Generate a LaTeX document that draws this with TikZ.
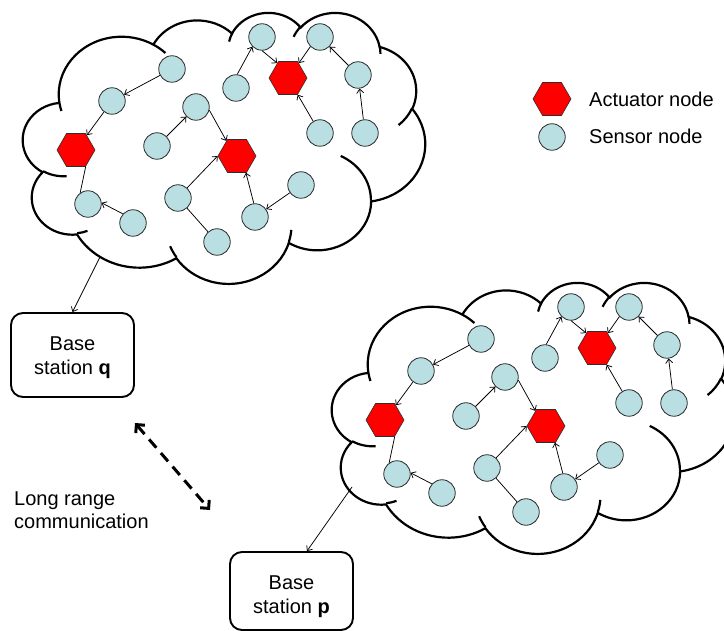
\documentclass[tikz,border=0pt]{standalone}
\usepackage{fontspec}
\setmainfont{Liberation Sans}
\usetikzlibrary{shapes.geometric,arrows.meta,calc}
\definecolor{sensorblue}{RGB}{185,223,226}
\definecolor{nodeline}{RGB}{45,45,45}

\makeatletter
\newcommand\defcarc[5]{%
  \pgfmathsetmacro\carc@a{atan2((#2)*sin(#4),(#3)*cos(#4))}%
  \pgfmathsetmacro\carc@b{atan2((#2)*sin((#4)+(#5)),(#3)*cos((#4)+(#5)))}%
  \pgfmathsetmacro\carc@d{mod((\carc@b)-(\carc@a)+720,360)}%
  \expandafter\xdef\csname cS#1\endcsname{\carc@a}%
  \expandafter\xdef\csname cD#1\endcsname{\carc@d}%
}
\makeatother
\defcarc{A}{6753}{9190}{-190.48748}{123.78053}
\defcarc{B}{5333}{7267}{-144.10238}{89.94523}
\defcarc{C}{4365}{5945}{-145.80792}{99.72302}
\defcarc{D}{4857}{6595}{-130.98607}{117.24173}
\defcarc{E}{5333}{7273}{-78.70888}{109.02692}
\defcarc{F}{6775}{9220}{-46.26725}{130.269}
\defcarc{G}{5785}{7867}{0.62502}{114.03333}
\defcarc{H}{6752}{9215}{22.4516}{115.17255}
\defcarc{I}{7720}{10543}{66.24263}{75.71102}
\defcarc{J}{4360}{5918}{-274.94208}{146.73557}
\defcarc{K}{4345}{5945}{-246.8285}{152.51885}
\defcarc{a}{4345}{5945}{86.742}{26.4295}
\defcarc{b}{4360}{5918}{73.61047}{11.44747}
\defcarc{c}{6752}{9215}{137.62415}{14.0811}
\defcarc{d}{6752}{9215}{6.45327}{15.99835}
\defcarc{e}{5785}{7867}{-70.29235}{70.91737}
\defcarc{f}{5333}{7273}{30.31803}{27.7515}
\defcarc{g}{4857}{6595}{-13.74433}{14.8589}
\defcarc{h}{4857}{6595}{-149.18145}{18.19537}
\defcarc{i}{4365}{5945}{-163.49427}{17.68635}
\defcarc{j}{6753}{9190}{-66.70695}{12.31935}
\defcarc{k}{6753}{9190}{157.65435}{11.85817}

\newcommand\drawcloud{%
  \draw[cloudline] (3900,14370)
    arc[start angle=\cSA, delta angle=\cDA, x radius=6753, y radius=9190]
    arc[start angle=\cSB, delta angle=\cDB, x radius=5333, y radius=7267]
    arc[start angle=\cSC, delta angle=\cDC, x radius=4365, y radius=5945]
    arc[start angle=\cSD, delta angle=\cDD, x radius=4857, y radius=6595]
    arc[start angle=\cSE, delta angle=\cDE, x radius=5333, y radius=7273]
    arc[start angle=\cSF, delta angle=\cDF, x radius=6775, y radius=9220]
    arc[start angle=\cSG, delta angle=\cDG, x radius=5785, y radius=7867]
    arc[start angle=\cSH, delta angle=\cDH, x radius=6752, y radius=9215]
    arc[start angle=\cSI, delta angle=\cDI, x radius=7720, y radius=10543]
    arc[start angle=\cSJ, delta angle=\cDJ, x radius=4360, y radius=5918]
    arc[start angle=\cSK, delta angle=\cDK, x radius=4345, y radius=5945];
  \draw[cloudline]
    (4693,26177) arc[start angle=\cSa, delta angle=\cDa, x radius=4345, y radius=5945]
    (6928,34899) arc[start angle=\cSb, delta angle=\cDb, x radius=4360, y radius=5918]
    (16478,39090) arc[start angle=\cSc, delta angle=\cDc, x radius=6752, y radius=9215]
    (28827,34751) arc[start angle=\cSd, delta angle=\cDd, x radius=6752, y radius=9215]
    (34129,22954) arc[start angle=\cSe, delta angle=\cDe, x radius=5785, y radius=7867]
    (41798,15354) arc[start angle=\cSf, delta angle=\cDf, x radius=5333, y radius=7273]
    (38324,5426) arc[start angle=\cSg, delta angle=\cDg, x radius=4857, y radius=6595]
    (29078,3952) arc[start angle=\cSh, delta angle=\cDh, x radius=4857, y radius=6595]
    (22141,4720) arc[start angle=\cSi, delta angle=\cDi, x radius=4365, y radius=5945]
    (14000,5192) arc[start angle=\cSj, delta angle=\cDj, x radius=6753, y radius=9190]
    (4127,15789) arc[start angle=\cSk, delta angle=\cDk, x radius=6753, y radius=9190];
}

\newcommand\network{%
  \node[sensor] (s1) at (172,69) {};
  \node[sensor] (s2) at (112,101) {};
  \node[sensor] (s3) at (196,107) {};
  \node[sensor] (s4) at (157,146) {};
  \node[sensor] (s5) at (262,37) {};
  \node[sensor] (s6) at (236,88) {};
  \node[sensor] (s7) at (320,37) {};
  \node[sensor] (s8) at (358,75) {};
  \node[sensor] (s9) at (320,133) {};
  \node[sensor] (s10) at (365,133) {};
  \node[sensor] (s11) at (88,204) {};
  \node[sensor] (s12) at (133,223) {};
  \node[sensor] (s13) at (178,198) {};
  \node[sensor] (s14) at (217,242) {};
  \node[sensor] (s15) at (255,217) {};
  \node[sensor] (s16) at (301,185) {};
  \node[actuator] (a1) at (76,150) {};
  \node[actuator] (a2) at (237,156) {};
  \node[actuator] (a3) at (288,78) {};
  \draw[arr] (s1) -- (s2);
  \draw[arr] (s2) -- (a1);
  \draw[arr] (s4) -- (s3);
  \draw[arr] (s3.-13) -- (a2.125);
  \draw[arr] (s6.85) -- (s5.225);
  \draw[arr] (s5.-90) -- (a3.126);
  \draw[arr] (s7.225) -- (a3.54);
  \draw[arr] (s8) -- (s7);
  \draw[arr] (s10) -- (s8);
  \draw[arr] (s9) -- (a3);
  \draw[ln] (a1.-60) -- (s11.125);
  \draw[arr] (s12.138) -- (s11.5);
  \draw[arr] (s13.48) -- (a2.180);
  \draw[ln] (s14) -- (s13);
  \draw[arr] (s15.95) -- (a2.-62);
  \draw[arr] (s16) -- (s15);
}

\begin{document}
\begin{tikzpicture}[x=1pt,y=-1pt,
  cloudline/.style={draw=black, line width=2.2pt},
  sensor/.style={circle, draw=nodeline, fill=sensorblue, line width=0.8pt,
    minimum size=26.5pt, inner sep=0pt},
  actuator/.style={regular polygon, regular polygon sides=6, draw=nodeline,
    fill=red, line width=0.6pt, minimum size=38pt, inner sep=0pt},
  arr/.style={draw=black, line width=0.75pt, -{Straight Barb[length=4pt,width=7pt]}},
  ln/.style={draw=black, line width=0.75pt},
  bsbox/.style={draw=black, line width=1.9pt, rounded corners=12pt,
    minimum width=123pt, inner sep=0pt},
  txt/.style={font=\fontsize{20}{23}\selectfont, inner sep=0pt},
  lrarrow/.style={draw=black, line width=3pt, dash pattern=on 11pt off 7pt,
    {Straight Barb[length=6pt,width=12pt]}-{Straight Barb[length=6pt,width=12pt]}}
]
\useasboundingbox (0,0) rectangle (724,631);

\begin{scope}[shift={(23,12)},x=0.0093056pt,y=-0.0062731pt]
  \drawcloud
\end{scope}
\begin{scope}[shift={(332,282)},x=0.0093056pt,y=-0.0062731pt]
  \drawcloud
\end{scope}

\begin{scope}[name prefix=t-]
  \network
\end{scope}
\begin{scope}[shift={(309,270)},name prefix=b-]
  \network
\end{scope}

% legend
\node[actuator] (la) at (552,99) {};
\node[sensor] (ls) at (552,137) {};
\node[txt, anchor=base west] (lat) at (589,106.5) {Actuator node};
\node[txt, anchor=base west] (lst) at (589,144) {Sensor node};

% base stations
\node[bsbox, minimum height=84pt] (q) at (72.5,355) {};
\node[txt, anchor=base] (q1) at (72.5,351) {Base};
\node[txt, anchor=base] (q2) at (72.5,375) {station \textbf{q}};
\node[bsbox, minimum height=78pt] (p) at (291.5,591) {};
\node[txt, anchor=base] (p1) at (291.5,589) {Base};
\node[txt, anchor=base] (p2) at (291.5,613) {station \textbf{p}};

\coordinate (qs) at (100,257);
\coordinate (ps) at (352,487);
\draw[arr] (qs) -- (q.north);
\draw[arr] (ps) -- ($(p.north)+(15.5,0)$);

% long range communication
\coordinate (lr1) at (135,423);
\coordinate (lr2) at (210,510);
\draw[lrarrow] (lr1) -- (lr2);
\node[txt, anchor=base west] (lrt1) at (14,505) {Long range};
\node[txt, anchor=base west] (lrt2) at (14,529) {communication};
\end{tikzpicture}
\end{document}
